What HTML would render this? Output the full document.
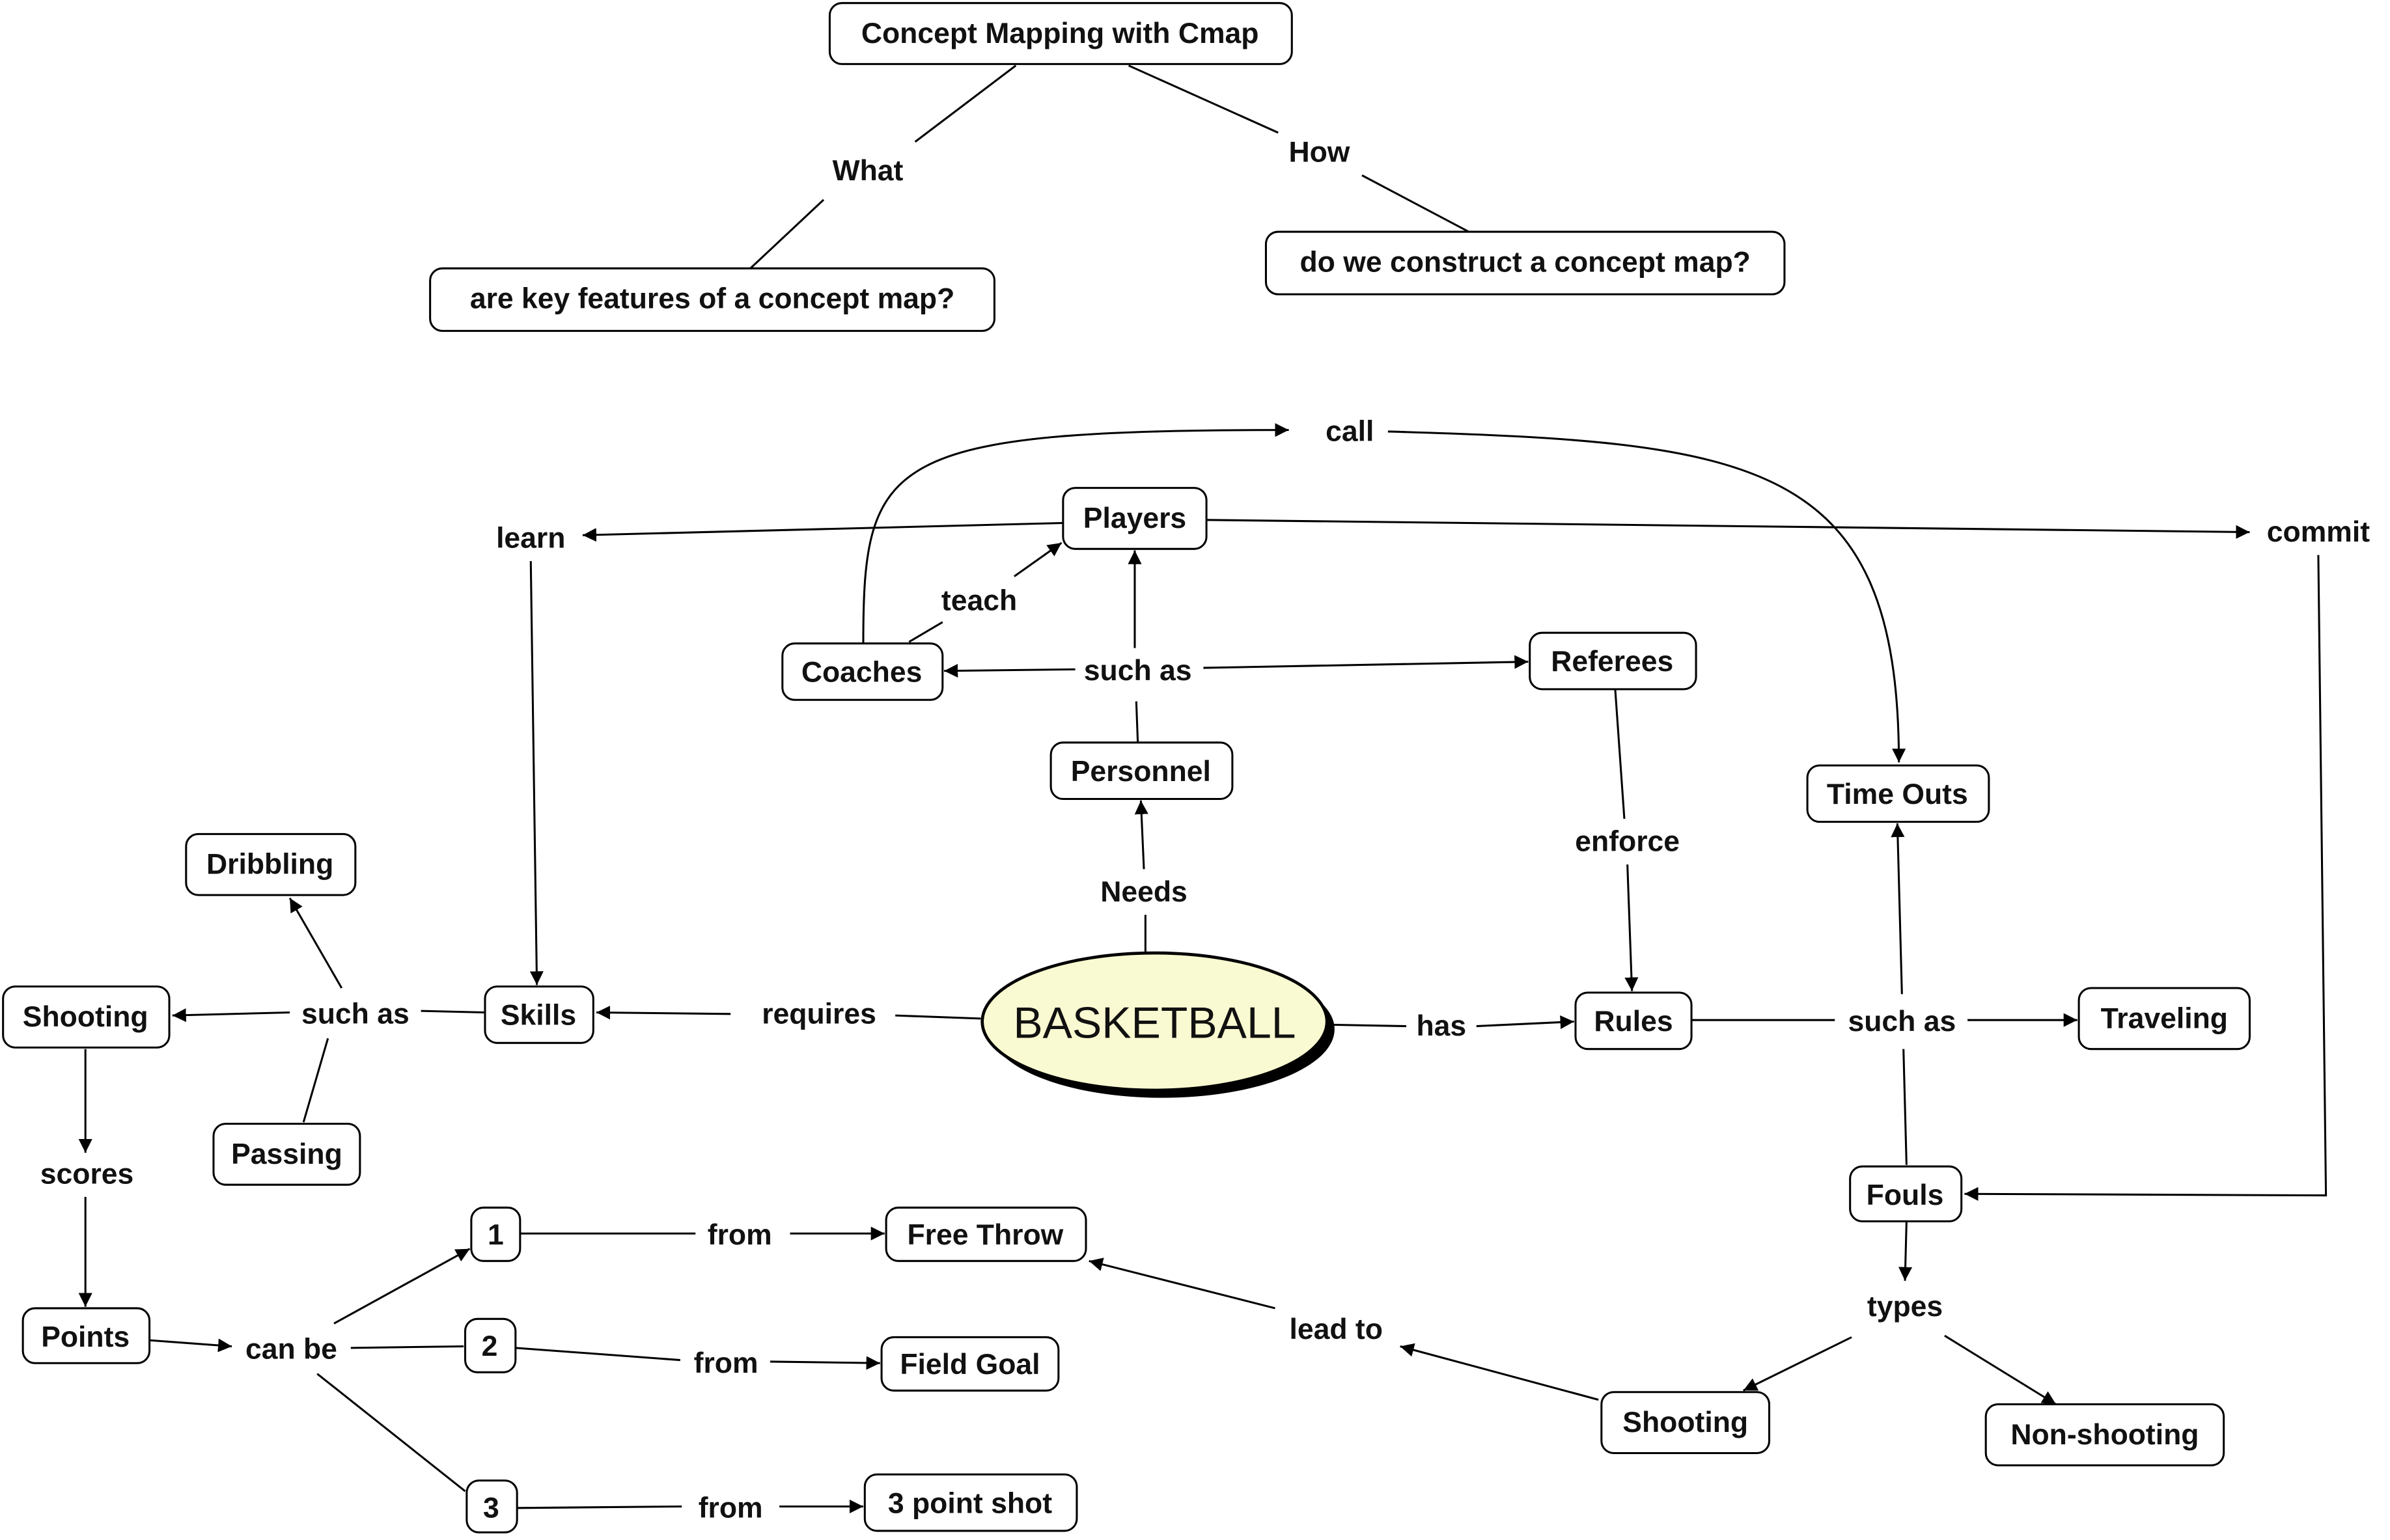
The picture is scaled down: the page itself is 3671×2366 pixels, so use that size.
<!DOCTYPE html>
<html><head><meta charset="utf-8"><style>
html,body{margin:0;padding:0;background:#fff;}
svg{display:block;}
text{font-family:"Liberation Sans","NanumGothic",sans-serif;font-size:19px;font-weight:bold;fill:#111;text-anchor:middle;dominant-baseline:central;}
.n{fill:#fff;stroke:#000;stroke-width:1.3;}
.l{stroke:#000;stroke-width:1.3;fill:none;}
</style></head><body>
<svg width="3671" height="2366" viewBox="0 0 1567 1010" preserveAspectRatio="none" xmlns="http://www.w3.org/2000/svg">
<defs><marker id="a" viewBox="0 0 10 10" refX="10" refY="5" markerWidth="9" markerHeight="9" markerUnits="userSpaceOnUse" orient="auto"><path d="M0,0 L10,5 L0,10 z" fill="#000"/></marker></defs>
<g class="l">
<line x1="666" y1="43" x2="600" y2="93"/><line x1="540" y1="131" x2="492" y2="176"/>
<line x1="740" y1="43" x2="838" y2="87"/><line x1="893" y1="115" x2="963" y2="152"/>
<path d="M566,422 C566,300 580,282 845,282" marker-end="url(#a)"/>
<path d="M910,283 C1150,290 1245,300 1245,500" marker-end="url(#a)"/>
<line x1="697" y1="343" x2="382" y2="351" marker-end="url(#a)"/>
<line x1="348" y1="368" x2="352" y2="646" marker-end="url(#a)"/>
<line x1="791" y1="341" x2="1475" y2="349" marker-end="url(#a)"/>
<polyline points="1520,364 1525,784 1288,783" marker-end="url(#a)"/>
<line x1="596" y1="421" x2="618" y2="408"/><line x1="665" y1="378" x2="696" y2="356" marker-end="url(#a)"/>
<line x1="746" y1="487" x2="745" y2="460"/><line x1="744" y1="425" x2="744" y2="361" marker-end="url(#a)"/>
<line x1="705" y1="439" x2="619" y2="440" marker-end="url(#a)"/><line x1="789" y1="438" x2="1002" y2="434" marker-end="url(#a)"/>
<line x1="1059" y1="452" x2="1065" y2="537"/><line x1="1067" y1="567" x2="1070" y2="650" marker-end="url(#a)"/>
<line x1="751" y1="625" x2="751" y2="600"/><line x1="750" y1="570" x2="748" y2="525" marker-end="url(#a)"/>
<line x1="643" y1="668" x2="587" y2="666"/><line x1="479" y1="665" x2="391" y2="664" marker-end="url(#a)"/>
<line x1="318" y1="664" x2="276" y2="663"/><line x1="190" y1="664" x2="113" y2="666" marker-end="url(#a)"/>
<line x1="224" y1="648" x2="190" y2="589" marker-end="url(#a)"/><line x1="215" y1="681" x2="199" y2="736"/>
<line x1="870" y1="672" x2="922" y2="673"/><line x1="968" y1="673" x2="1032" y2="670" marker-end="url(#a)"/>
<line x1="1109" y1="669" x2="1203" y2="669"/><line x1="1290" y1="669" x2="1362" y2="669" marker-end="url(#a)"/>
<line x1="1250" y1="764" x2="1248" y2="688"/><line x1="1247" y1="652" x2="1244" y2="540" marker-end="url(#a)"/>
<line x1="1250" y1="801" x2="1249" y2="840" marker-end="url(#a)"/>
<line x1="1214" y1="877" x2="1143" y2="912" marker-end="url(#a)"/><line x1="1275" y1="876" x2="1348" y2="921" marker-end="url(#a)"/>
<line x1="1048" y1="918" x2="918" y2="883" marker-end="url(#a)"/><line x1="836" y1="858" x2="714" y2="827" marker-end="url(#a)"/>
<line x1="56" y1="688" x2="56" y2="756" marker-end="url(#a)"/><line x1="56" y1="785" x2="56" y2="857" marker-end="url(#a)"/>
<line x1="98" y1="879" x2="152" y2="883" marker-end="url(#a)"/>
<line x1="219" y1="868" x2="308" y2="819" marker-end="url(#a)"/><line x1="230" y1="884" x2="304" y2="883"/><line x1="208" y1="901" x2="305" y2="978"/>
<line x1="341" y1="809" x2="456" y2="809"/><line x1="518" y1="809" x2="580" y2="809" marker-end="url(#a)"/>
<line x1="338" y1="884" x2="446" y2="892"/><line x1="505" y1="893" x2="577" y2="894" marker-end="url(#a)"/>
<line x1="339" y1="989" x2="447" y2="988"/><line x1="511" y1="988" x2="566" y2="988" marker-end="url(#a)"/>
</g>
<g>
<rect class="n" x="544" y="2" width="303" height="40" rx="8"/><text x="695" y="22">Concept Mapping with Cmap</text>
<rect class="n" x="282" y="176" width="370" height="41" rx="8"/><text x="467" y="196">are key features of a concept map?</text>
<rect class="n" x="830" y="152" width="340" height="41" rx="8"/><text x="1000" y="172">do we construct a concept map?</text>
<rect class="n" x="697" y="320" width="94" height="40" rx="8"/><text x="744" y="340">Players</text>
<rect class="n" x="513" y="422" width="105" height="37" rx="8"/><text x="565" y="441">Coaches</text>
<rect class="n" x="1003" y="415" width="109" height="37" rx="8"/><text x="1057" y="434">Referees</text>
<rect class="n" x="689" y="487" width="119" height="37" rx="8"/><text x="748" y="506">Personnel</text>
<rect class="n" x="1185" y="502" width="119" height="37" rx="8"/><text x="1244" y="521">Time Outs</text>
<rect class="n" x="122" y="547" width="111" height="40" rx="8"/><text x="177" y="567">Dribbling</text>
<rect class="n" x="2" y="647" width="109" height="40" rx="8"/><text x="56" y="667">Shooting</text>
<rect class="n" x="318" y="647" width="71" height="37" rx="8"/><text x="353" y="666">Skills</text>
<ellipse cx="762" cy="675" rx="113" ry="45" fill="#000"/>
<ellipse cx="757" cy="670" rx="113" ry="45" fill="#fafad2" stroke="#000" stroke-width="2"/>
<text x="757" y="671" style="font-size:29px;font-weight:normal">BASKETBALL</text>
<rect class="n" x="1033" y="651" width="76" height="37" rx="8"/><text x="1071" y="670">Rules</text>
<rect class="n" x="1363" y="648" width="112" height="40" rx="8"/><text x="1419" y="668">Traveling</text>
<rect class="n" x="140" y="737" width="96" height="40" rx="8"/><text x="188" y="757">Passing</text>
<rect class="n" x="1213" y="765" width="73" height="36" rx="8"/><text x="1249" y="784">Fouls</text>
<rect class="n" x="309" y="792" width="32" height="35" rx="8"/><text x="325" y="810">1</text>
<rect class="n" x="581" y="792" width="131" height="35" rx="8"/><text x="646" y="810">Free Throw</text>
<rect class="n" x="15" y="858" width="83" height="36" rx="8"/><text x="56" y="877">Points</text>
<rect class="n" x="305" y="865" width="33" height="35" rx="8"/><text x="321" y="883">2</text>
<rect class="n" x="578" y="877" width="116" height="35" rx="8"/><text x="636" y="895">Field Goal</text>
<rect class="n" x="1050" y="913" width="110" height="40" rx="8"/><text x="1105" y="933">Shooting</text>
<rect class="n" x="1302" y="921" width="156" height="40" rx="8"/><text x="1380" y="941">Non-shooting</text>
<rect class="n" x="306" y="971" width="33" height="34" rx="8"/><text x="322" y="989">3</text>
<rect class="n" x="567" y="967" width="139" height="37" rx="8"/><text x="636" y="986">3 point shot</text>
</g>
<g>
<text x="569" y="112">What</text><text x="865" y="100">How</text><text x="885" y="283">call</text>
<text x="348" y="353">learn</text><text x="1520" y="349">commit</text><text x="642" y="394">teach</text>
<text x="746" y="440">such as</text><text x="1067" y="552">enforce</text><text x="750" y="585">Needs</text>
<text x="233" y="665">such as</text><text x="537" y="665">requires</text><text x="945" y="673">has</text>
<text x="1247" y="670">such as</text><text x="57" y="770">scores</text><text x="485" y="810">from</text>
<text x="876" y="872">lead to</text><text x="1249" y="857">types</text><text x="191" y="885">can be</text>
<text x="476" y="894">from</text><text x="479" y="989">from</text>
</g>
</svg>
</body></html>
